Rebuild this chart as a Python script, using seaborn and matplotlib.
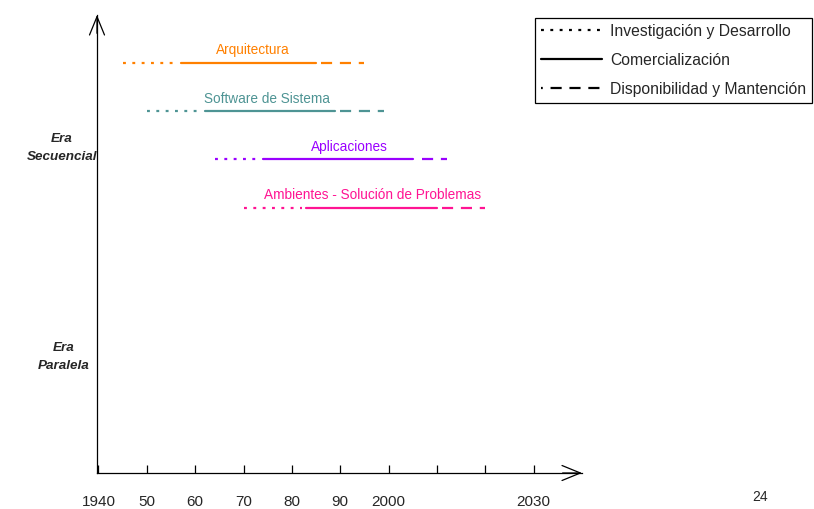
import matplotlib
matplotlib.use("Agg")
import matplotlib.pyplot as plt
from matplotlib.lines import Line2D
import seaborn as sns
import pandas as pd

# Timeline of computing-area development, by phase
projects = ["Arquitectura", "Software de Sistema", "Aplicaciones",
            "Ambientes - Solución de Problemas"]
phases = ["Investigación y Desarrollo", "Comercialización",
          "Disponibilidad y Mantención"]
# start / end year of each phase, one list per project
rd_start = [1945, 1950, 1964, 1970]
rd_end = [1956, 1961, 1973, 1982]
com_start = [1957, 1962, 1974, 1983]
com_end = [1985, 1989, 2005, 2010]
mnt_start = [1986, 1990, 2007, 2011]
mnt_end = [1995, 1999, 2012, 2020]

tick_years = [1940, 1950, 1960, 1970, 1980, 1990, 2000, 2010, 2020, 2030]
tick_labels = ["1940", "50", "60", "70", "80", "90", "2000", "", "", "2030"]

colors = ["#FF8000", "#4E9494", "#9A00FF", "#FF1493"]

rows = []
spans = [(rd_start, rd_end), (com_start, com_end), (mnt_start, mnt_end)]
seg = 0
for i, proj in enumerate(projects):
    for phase, (s, e) in zip(phases, spans):
        for yr in (s[i], e[i]):
            rows.append({"proyecto": proj, "fase": phase, "year": yr,
                         "fila": -i, "seg": seg})
        seg += 1
df = pd.DataFrame(rows)

sns.set_theme(style="white")
plt.rcParams["font.family"] = ["Liberation Sans", "DejaVu Sans"]

W, H = 814, 509
fig = plt.figure(figsize=(W / 100, H / 100), dpi=100)
# axes box in pixels: left 97, right 582, top 15, bottom 473
ax = fig.add_axes([97 / W, (H - 473) / H, (582 - 97) / W, (473 - 15) / H])

dash_styles = {
    phases[0]: (1.3, 2.9),
    phases[1]: "",
    phases[2]: (5, 3.5),
}
sns.lineplot(data=df, x="year", y="fila", hue="proyecto", style="fase",
             units="seg", estimator=None, sort=False,
             palette=dict(zip(projects, colors)), dashes=dash_styles,
             linewidth=1.6, legend=False, ax=ax)

ax.set_xlim(1939.7, 2040)
ax.set_ylim(-8.49, 0.99)

# project labels above each row
label_years = [1972.0, 1974.9, 1991.8, 1996.6]
for i, (proj, c, lx) in enumerate(zip(projects, colors, label_years)):
    ax.annotate(proj, (lx, -i), xytext=(0, 4), textcoords="offset points",
                ha="center", va="bottom", color=c, fontsize=9.8)

# axes: only left/bottom lines with open arrow heads
for side in ["top", "right"]:
    ax.spines[side].set_visible(False)
for side in ["left", "bottom"]:
    ax.spines[side].set_color("black")
    ax.spines[side].set_linewidth(0.9)
ax.annotate("", xy=(1.0, 0), xytext=(0.96, 0), xycoords="axes fraction",
            arrowprops=dict(arrowstyle="->,head_length=1.1,head_width=0.45",
                            lw=0.9, color="black", shrinkA=0, shrinkB=0))
ax.annotate("", xy=(0, 1.0), xytext=(0, 0.96), xycoords="axes fraction",
            arrowprops=dict(arrowstyle="->,head_length=1.1,head_width=0.45",
                            lw=0.9, color="black", shrinkA=0, shrinkB=0))

ax.set_xticks(tick_years)
ax.set_xticklabels(tick_labels)
ax.tick_params(axis="x", direction="in", length=6, width=0.9, color="black",
               pad=16, labelsize=11, bottom=True)
ax.set_yticks([])
ax.set_xlabel("")
ax.set_ylabel("")
ax.grid(False)

# era labels on the left
fig.text(62 / W, 1 - 148 / H, "Era\nSecuencial", ha="center", va="center",
         fontsize=9.7, fontweight="bold", fontstyle="italic",
         linespacing=1.6)
fig.text(64 / W, 1 - 357 / H, "Era\nParalela", ha="center", va="center",
         fontsize=9.7, fontweight="bold", fontstyle="italic",
         linespacing=1.6)

# phase legend
handles = [
    Line2D([], [], color="black", lw=1.6, linestyle=(0, (1.3, 2.9))),
    Line2D([], [], color="black", lw=1.6, linestyle="-"),
    Line2D([], [], color="black", lw=1.6, linestyle=(4.2, (5, 3.5))),
]
leg = fig.legend(handles, phases, loc="upper right",
                 bbox_to_anchor=(812 / W, 1 - 18 / H), fontsize=11.3,
                 frameon=True, fancybox=False, framealpha=1,
                 edgecolor="black", handlelength=3.9, handletextpad=0.5,
                 borderpad=0.38, labelspacing=0.88, borderaxespad=0)
leg.get_frame().set_linewidth(0.9)

fig.text(760 / W, 1 - 497 / H, "24", ha="center", va="center", fontsize=10)

fig.savefig("out.png", dpi=100, facecolor="white")
